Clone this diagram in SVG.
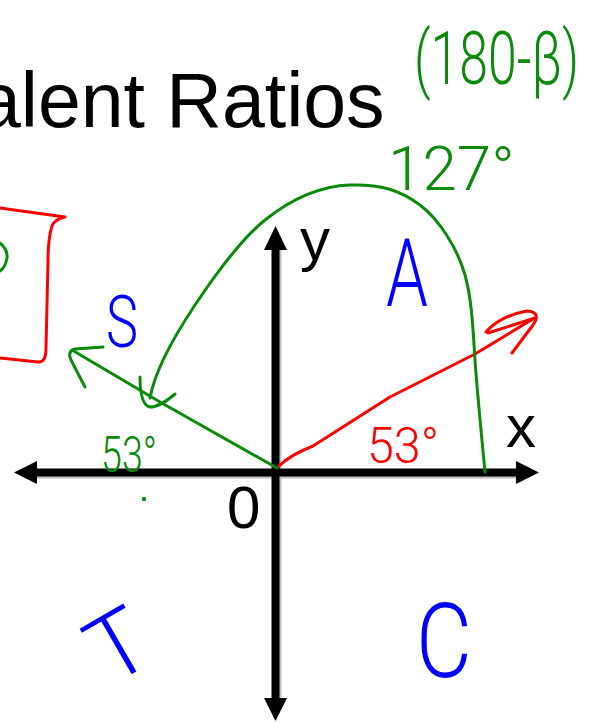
<svg xmlns="http://www.w3.org/2000/svg" width="593" height="722" viewBox="0 0 593 722">
  <style>
    .axis { stroke: #000; stroke-width: 8; fill: none; }
    .shadow { stroke: #c0c0c0; stroke-width: 8; fill: none; }
    .head { fill: #000; }
    .lbl { font-family: "Liberation Sans", Arial, sans-serif; fill: #000; }
    .hand { font-family: Roboto, "Liberation Sans", sans-serif; font-weight: 300; }
    .g { stroke: #0c8a0c; stroke-width: 3; fill: none; stroke-linecap: round; stroke-linejoin: round; }
    .r { stroke: #ff0000; stroke-width: 3; fill: none; stroke-linecap: round; stroke-linejoin: round; }
    .gt { fill: #0c8a0c; }
    .rt { fill: #ff0000; }
    .bt { fill: #0000ff; }
  </style>
  <rect width="593" height="722" fill="#fff"/>

  <!-- title (cut off at the left edge, as in the picture) -->
  <text id="title" class="lbl" x="-22" y="127" font-size="77">alent Ratios</text>

  <!-- axes -->
  <g id="axes">
    <line class="shadow" x1="37" y1="474.5" x2="517" y2="474.5"/>
    <line class="shadow" x1="277.5" y1="250" x2="277.5" y2="698"/>
    <line class="axis" x1="36" y1="472.5" x2="518" y2="472.5"/>
    <line class="axis" x1="275.5" y1="249" x2="275.5" y2="699"/>
    <polygon class="head" points="14,472.5 37,461 37,484"/>
    <polygon class="head" points="539,472.5 516,461 516,484"/>
    <polygon class="head" points="275.5,226 264,250 287,250"/>
    <polygon class="head" points="275.5,721 264,698 287,698"/>
    <text class="lbl" x="300" y="260" font-size="60">y</text>
    <text class="lbl" x="506" y="447" font-size="60">x</text>
    <text class="lbl" x="227" y="528" font-size="60">0</text>
  </g>

  <!-- red box at left edge -->
  <g id="redbox">
    <path class="r" d="M0,208 L65,217 Q55,219 52,226 Q48,238 48,262 L46,348 Q46,363 38,362 L0,358"/>
    <path class="g" d="M0,243 Q8,250 7,258 Q5,268 0,271"/>
  </g>

  <!-- connectors / strokes -->
  <g id="strokes">
    <!-- red vector -->
    <path class="r" d="M279,466 Q290,455 313,446 L390,397 L475,354 L533,319"/>
    <path class="r" d="M486,332 Q500,316 527,311 Q542,312 533,325 L512,353"/>
    <path class="r" d="M488,333 Q510,326 535,318"/>
    <!-- green vector -->
    <path class="g" d="M277,468 Q215,433 160,402 L72,350"/>
    <path class="g" d="M103,347 L75,349 Q67,351 71,360 L85,387"/>
    <!-- green arc -->
    <path class="g" d="M150,398 C155,370 175,335 195,305 S240,240 265,220 S320,186 350,185 S400,190 420,205 S458,250 465,275 S473,330 475,360 S482,440 485,472"/>
    <path class="g" d="M140,377 Q140,405 150,407 Q160,407 175,394"/>
    <circle cx="144" cy="499" r="2.2" fill="#0c8a0c"/>
  </g>

  <!-- handwritten labels -->
  <g id="labels">
    <text class="hand gt" x="0" y="0" font-size="74" transform="translate(414,84) scale(0.7,1)">(180-β)</text>
    <text class="hand gt" x="388" y="190" font-size="62">127°</text>
    <text class="hand rt" x="367" y="463" font-size="50" textLength="72" lengthAdjust="spacingAndGlyphs">53°</text>
    <text class="hand gt" x="101" y="472" font-size="50" textLength="56" lengthAdjust="spacingAndGlyphs">53°</text>
    <text class="hand bt" x="106" y="347" font-size="72" textLength="32" lengthAdjust="spacingAndGlyphs">S</text>
    <text class="hand bt" x="386" y="306" font-size="94" textLength="42" lengthAdjust="spacingAndGlyphs">A</text>
    <text class="hand bt" x="118" y="677" font-size="92" text-anchor="middle" transform="rotate(-30 118 645)">T</text>
    <text class="hand bt" x="416" y="677" font-size="104" textLength="56" lengthAdjust="spacingAndGlyphs">C</text>
  </g>
</svg>
